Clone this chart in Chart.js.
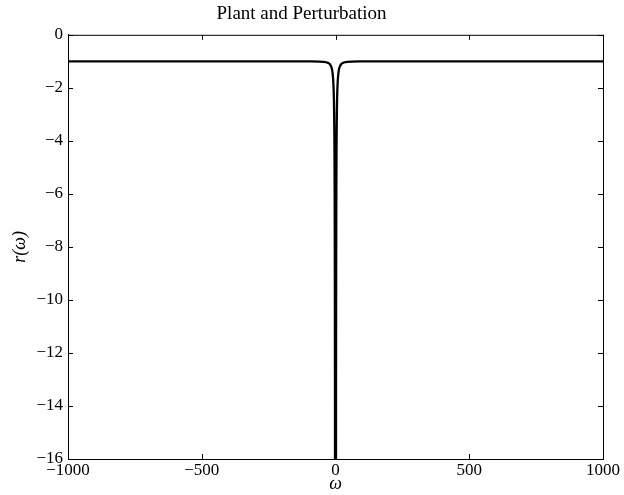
<!DOCTYPE html>
<html>
<head>
<meta charset="utf-8">
<script src="https://cdn.jsdelivr.net/npm/chart.js@4.4.0/dist/chart.umd.min.js"></script>
<style>
  html, body { margin: 0; padding: 0; background: #fff; }
  #wrap { width: 624px; height: 495px; }
</style>
</head>
<body>
<div id="wrap"><canvas id="plot" width="624" height="495"></canvas></div>
<script>
// values
const omega = [-1000, -500, -200, -100, -60, -45, -35, -28, -23, -19, -16, -14, -12, -10.5, -9, -8, -7, -6, -5, -4.3, -3.7, -3.2, -2.8, -2.4, -2, -1.5,
               1.5, 2, 2.4, 2.8, 3.2, 3.7, 4.3, 5, 6, 7, 8, 9, 10.5, 12, 14, 16, 19, 23, 28, 35, 45, 60, 100, 200, 500, 1000];
const rValues = [-1, -1, -1, -1.005, -1.01, -1.02, -1.035, -1.06, -1.09, -1.14, -1.2, -1.26, -1.36, -1.48, -1.65, -1.82, -2.05, -2.4, -3.0, -3.7, -4.6, -5.8, -7.2, -9.5, -13, -22,
                 -22, -13, -9.5, -7.2, -5.8, -4.6, -3.7, -3.0, -2.4, -2.05, -1.82, -1.65, -1.48, -1.36, -1.26, -1.2, -1.14, -1.09, -1.06, -1.035, -1.02, -1.01, -1.005, -1, -1, -1];
const xTicks = [-1000, -500, 0, 500, 1000];
const yTicks = [-16, -14, -12, -10, -8, -6, -4, -2, 0];

const fmt = v => (v < 0 ? "\u2212" + Math.abs(v) : String(v));
const serif = "'Liberation Serif', 'DejaVu Serif', serif";

// box around the axes plus inward tick marks on all four sides
const boxTicks = {
  id: "boxTicks",
  afterDraw(chart) {
    const { ctx, chartArea: a, scales } = chart;
    ctx.save();
    ctx.strokeStyle = "#000";
    ctx.lineWidth = 1;
    ctx.strokeRect(a.left + 0.5, a.top + 0.5, a.right - a.left, a.bottom - a.top);
    const len = 5;
    ctx.beginPath();
    xTicks.forEach(v => {
      const px = Math.round(scales.x.getPixelForValue(v)) + 0.5;
      ctx.moveTo(px, a.bottom); ctx.lineTo(px, a.bottom - len);
      ctx.moveTo(px, a.top); ctx.lineTo(px, a.top + len);
    });
    yTicks.forEach(v => {
      const py = Math.round(scales.y.getPixelForValue(v)) + 0.5;
      ctx.moveTo(a.left, py); ctx.lineTo(a.left + len, py);
      ctx.moveTo(a.right, py); ctx.lineTo(a.right - len, py);
    });
    ctx.stroke();
    ctx.restore();
  }
};

new Chart(document.getElementById("plot").getContext("2d"), {
  type: "scatter",
  data: {
    datasets: [{
      data: omega.map((x, i) => ({ x: x, y: rValues[i] })),
      showLine: true,
      borderColor: "#000",
      borderWidth: 2.3,
      borderJoinStyle: "round",
      pointRadius: 0,
      cubicInterpolationMode: "monotone"
    }]
  },
  options: {
    responsive: false,
    animation: false,
    layout: { padding: { left: 0, right: 21, top: 0, bottom: 0 } },
    plugins: {
      legend: { display: false },
      tooltip: { enabled: false },
      title: {
        display: true,
        text: "Plant and Perturbation",
        color: "#000",
        font: { family: serif, size: 19, weight: "normal" },
        padding: { top: 3, bottom: 9 }
      }
    },
    scales: {
      x: {
        type: "linear",
        min: -1000, max: 1000,
        afterBuildTicks: s => { s.ticks = xTicks.map(v => ({ value: v })); },
        afterFit: s => { s.height = 36; },
        grid: { display: false, drawTicks: false },
        border: { display: true, color: "#000" },
        ticks: {
          color: "#000", padding: 1, maxRotation: 0,
          font: { family: serif, size: 17 },
          callback: v => fmt(v)
        },
        title: {
          display: true, text: "\u03c9", color: "#000", padding: 0,
          font: { family: serif, size: 18, style: "italic" }
        }
      },
      y: {
        type: "linear",
        min: -16, max: 0,
        afterBuildTicks: s => { s.ticks = yTicks.map(v => ({ value: v })); },
        afterFit: s => { s.width = 68; },
        grid: { display: false, drawTicks: false },
        border: { display: true, color: "#000" },
        ticks: {
          color: "#000", padding: 5,
          font: { family: serif, size: 17 },
          callback: v => fmt(v)
        },
        title: {
          display: true, text: "r(\u03c9)", color: "#000", padding: { top: 9, bottom: 0 },
          font: { family: serif, size: 18, style: "italic" }
        }
      }
    }
  },
  plugins: [boxTicks]
});
</script>
</body>
</html>
